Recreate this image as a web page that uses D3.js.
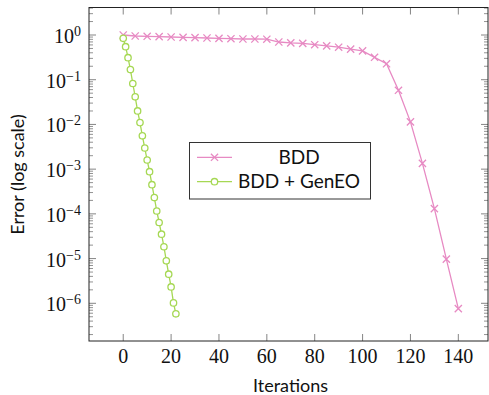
<!DOCTYPE html>
<html>
<head>
<meta charset="utf-8">
<script src="https://cdn.jsdelivr.net/npm/d3@7"></script>
<style>
html,body{margin:0;padding:0;background:#fff;}
svg{display:block;}
.serif{font-family:"Liberation Serif","Times New Roman",serif;}
.sans{font-family:Lato,"Open Sans",sans-serif;}
</style>
</head>
<body>
<svg id="chart" width="489" height="395"></svg>
<script>
// ---- data ----
const bddIter = [0,5,10,15,20,25,30,35,40,45,50,55,60,65,70,75,80,85,90,95,100,105,110,115,120,125,130,135,140];
const bddError = [1.0,0.95,0.935,0.917,0.902,0.887,0.871,0.857,0.843,0.826,0.814,0.814,0.805,0.697,0.668,0.651,0.607,0.573,0.533,0.484,0.442,0.317,0.227,0.058,0.0114,0.00135,1.31e-4,9.7e-6,7.6e-7];
const geneoIter = [0,1,2,3,4,5,6,7,8,9,10,11,12,13,14,15,16,17,18,19,20,21,22];
const geneoError = [0.844,0.547,0.311,0.169,0.0823,0.0415,0.0200,0.0110,0.00557,0.00297,0.00160,8.78e-4,4.49e-4,2.32e-4,1.16e-4,6.41e-5,3.51e-5,1.84e-5,8.93e-6,4.48e-6,2.32e-6,1.02e-6,5.83e-7];
const xTicks = [0,20,40,60,80,100,120,140];
const yTickExps = [0,-1,-2,-3,-4,-5,-6];
const seriesNames = ["BDD","BDD + GenEO"];
const seriesColors = ["#e78ac3","#a6d854"];

// ---- layout ----
const svg = d3.select("#chart");
const L = 89, R = 488, T = 7.5, B = 341;
const x = d3.scaleLinear().domain([-14.3, 152.4]).range([L, R]);
const y = d3.scaleLog().domain([Math.pow(10,0.615), Math.pow(10,-6.843)]).range([T, B]);

const tickColor = "#777";

// minor y ticks
const minor = [];
for (let e = 1; e >= -7; e--) {
  for (let m = 2; m <= 9; m++) {
    const v = m * Math.pow(10, e - 1);
    const py = y(v);
    if (py > T + 0.5 && py < B - 0.5) minor.push(v);
  }
}
const g = svg.append("g");
g.selectAll(".minL").data(minor).join("line")
  .attr("x1", L).attr("x2", L + 4).attr("y1", d => y(d)).attr("y2", d => y(d))
  .attr("stroke", tickColor).attr("stroke-width", 0.8);
g.selectAll(".minR").data(minor).join("line")
  .attr("x1", R).attr("x2", R - 4).attr("y1", d => y(d)).attr("y2", d => y(d))
  .attr("stroke", tickColor).attr("stroke-width", 0.8);

// major y ticks
const yMaj = yTickExps.map(e => Math.pow(10, e));
g.selectAll(".majL").data(yMaj).join("line")
  .attr("x1", L).attr("x2", L + 7).attr("y1", d => y(d)).attr("y2", d => y(d))
  .attr("stroke", tickColor).attr("stroke-width", 0.9);
g.selectAll(".majR").data(yMaj).join("line")
  .attr("x1", R).attr("x2", R - 7).attr("y1", d => y(d)).attr("y2", d => y(d))
  .attr("stroke", tickColor).attr("stroke-width", 0.9);

// x ticks
g.selectAll(".xb").data(xTicks).join("line")
  .attr("x1", d => x(d)).attr("x2", d => x(d)).attr("y1", B).attr("y2", B - 7)
  .attr("stroke", tickColor).attr("stroke-width", 0.9);
g.selectAll(".xt").data(xTicks).join("line")
  .attr("x1", d => x(d)).attr("x2", d => x(d)).attr("y1", T).attr("y2", T + 7)
  .attr("stroke", tickColor).attr("stroke-width", 0.9);

// frame
svg.append("rect").attr("x", L).attr("y", T).attr("width", R - L).attr("height", B - T)
  .attr("fill", "none").attr("stroke", "#222").attr("stroke-width", 1);

// x tick labels
svg.selectAll(".xl").data(xTicks).join("text")
  .attr("class", "serif")
  .attr("x", d => x(d)).attr("y", 363)
  .attr("text-anchor", "middle").style("font-size", "20px")
  .attr("fill", "#111").text(d => d);

// y tick labels
const yl = svg.selectAll(".yl").data(yTickExps).join("text")
  .attr("class", "serif")
  .attr("x", 81).attr("y", d => y(Math.pow(10, d)) + 8)
  .attr("text-anchor", "end").style("font-size", "20px")
  .attr("fill", "#111");
yl.append("tspan").text("10");
yl.append("tspan").style("font-size", "14px").attr("dy", -7)
  .text(d => d < 0 ? "\u2212" + Math.abs(d) : String(d));

// axis labels
svg.append("text").attr("class", "sans").attr("x", 290.5).attr("y", 392)
  .attr("text-anchor", "middle").style("font-size", "18px")
  .attr("fill", "#111").text("Iterations");
svg.append("text").attr("class", "sans").attr("transform", "translate(24,174.5) rotate(-90)")
  .attr("text-anchor", "middle").style("font-size", "18px")
  .attr("fill", "#111").text("Error (log scale)");

// clip
svg.append("clipPath").attr("id", "clip").append("rect")
  .attr("x", L).attr("y", T).attr("width", R - L).attr("height", B - T);

const line = d3.line().x(d => x(d[0])).y(d => y(d[1]));
const bdd = bddIter.map((v, i) => [v, bddError[i]]);
const geneo = geneoIter.map((v, i) => [v, geneoError[i]]);

const plot = svg.append("g").attr("clip-path", "url(#clip)");
plot.append("path").datum(bdd).attr("d", line).attr("fill", "none")
  .attr("stroke", seriesColors[0]).attr("stroke-width", 1.3);
const cs = 3.6;
function crossPath(cx, cy, s) {
  return `M${cx - s},${cy - s}L${cx + s},${cy + s}M${cx - s},${cy + s}L${cx + s},${cy - s}`;
}
plot.selectAll(".cr").data(bdd).join("path")
  .attr("d", d => crossPath(x(d[0]), y(d[1]), cs))
  .attr("stroke", seriesColors[0]).attr("stroke-width", 1.3).attr("fill", "none");

plot.append("path").datum(geneo).attr("d", line).attr("fill", "none")
  .attr("stroke", seriesColors[1]).attr("stroke-width", 1.3);
plot.selectAll(".ci").data(geneo).join("circle")
  .attr("cx", d => x(d[0])).attr("cy", d => y(d[1])).attr("r", 3.2)
  .attr("fill", "#fff").attr("stroke", seriesColors[1]).attr("stroke-width", 1.3);

// legend
const lg = svg.append("g");
lg.append("rect").attr("x", 189.5).attr("y", 142.5).attr("width", 181).attr("height", 56.5)
  .attr("fill", "#fff").attr("stroke", "#333").attr("stroke-width", 1);
const rowsY = [157.3, 181.7];
seriesNames.forEach((name, i) => {
  const yy = rowsY[i];
  lg.append("line").attr("x1", 197).attr("x2", 232).attr("y1", yy).attr("y2", yy)
    .attr("stroke", seriesColors[i]).attr("stroke-width", 1.3);
  if (i === 0) {
    lg.append("path").attr("d", crossPath(214.5, yy, cs))
      .attr("stroke", seriesColors[0]).attr("stroke-width", 1.3).attr("fill", "none");
  } else {
    lg.append("circle").attr("cx", 214.5).attr("cy", yy).attr("r", 3.2)
      .attr("fill", "#fff").attr("stroke", seriesColors[1]).attr("stroke-width", 1.3);
  }
  lg.append("text").attr("class", "sans").attr("x", 299).attr("y", yy + 6.5)
    .attr("text-anchor", "middle").style("font-size", "19px")
    .attr("fill", "#111").text(name);
});
</script>
</body>
</html>
